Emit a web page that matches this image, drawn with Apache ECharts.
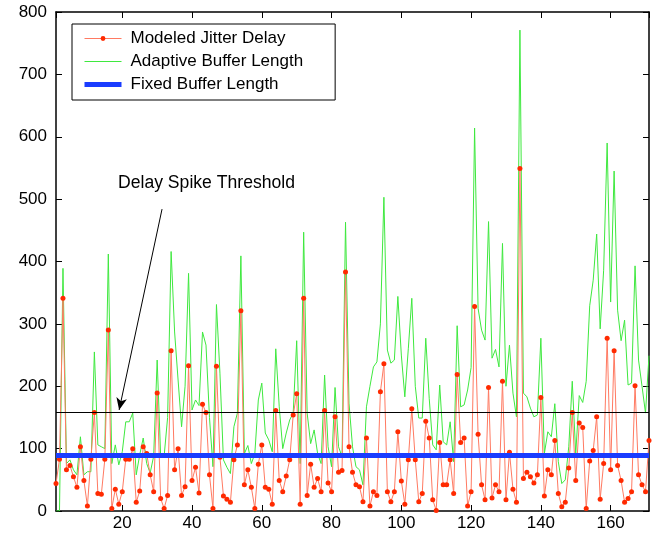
<!DOCTYPE html>
<html>
<head>
<meta charset="utf-8">
<script src="https://cdn.jsdelivr.net/npm/echarts@6/dist/echarts.min.js"></script>
<style>
  html, body { margin: 0; padding: 0; background: #fff; }
  #chart { width: 659px; height: 537px; }
</style>
</head>
<body>
<div id="chart"></div>
<script>
// ---------- data ----------
const xRange = [1, 171];
const yTicks = [0, 100, 200, 300, 400, 500, 600, 700, 800];

const jitterDelay = [
  44, 83, 341, 66, 73, 55, 38, 103, 49, 8,
  83, 158, 28, 27, 83, 290, 4, 35, 11, 31,
  83, 83, 100, 14, 32, 103, 92, 58, 31, 189,
  20, 4, 25, 257, 66, 100, 25, 39, 233, 49,
  70, 29, 171, 158, 58, 4, 232, 86, 24, 19,
  14, 82, 106, 321, 42, 66, 38, 4, 75, 106,
  38, 35, 11, 161, 49, 31, 56, 82, 154, 188,
  11, 341, 25, 75, 38, 52, 31, 161, 45, 31,
  151, 62, 65, 383, 103, 62, 42, 39, 15, 117,
  8, 31, 25, 191, 236, 31, 15, 31, 127, 48,
  11, 82, 164, 82, 15, 28, 144, 117, 18, 1,
  110, 42, 42, 82, 28, 219, 110, 117, 8, 31,
  328, 123, 42, 18, 198, 21, 42, 31, 208, 18,
  94, 35, 14, 549, 52, 62, 55, 45, 58, 182,
  24, 66, 58, 113, 28, 7, 14, 69, 158, 49,
  141, 134, 4, 80, 97, 151, 19, 76, 277, 66,
  257, 73, 49, 14, 20, 31, 201, 58, 42, 31,
  113
];

const adaptiveBuffer = [
  0, 0, 389, 76, 82, 66, 58, 119, 58, 63,
  63, 255, 106, 103, 100, 412, 76, 106, 74, 95,
  143, 143, 157, 58, 90, 117, 76, 61, 88, 242,
  88, 88, 150, 416, 287, 210, 135, 200, 381, 162,
  178, 169, 287, 266, 150, 71, 331, 221, 82, 70,
  60, 135, 157, 409, 92, 105, 76, 92, 178, 205,
  125, 114, 95, 260, 167, 100, 125, 146, 157, 273,
  76, 447, 157, 108, 130, 92, 76, 218, 103, 71,
  198, 103, 87, 463, 173, 103, 71, 66, 42, 167,
  200, 231, 239, 300, 503, 258, 237, 242, 344, 250,
  183, 260, 341, 200, 149, 149, 277, 180, 106, 98,
  202, 111, 106, 143, 79, 297, 167, 170, 194, 230,
  614, 325, 290, 274, 464, 245, 259, 231, 429, 200,
  266, 189, 151, 771, 189, 183, 165, 151, 154, 277,
  92, 127, 119, 172, 79, 44, 50, 103, 208, 92,
  185, 174, 208, 329, 370, 444, 292, 386, 590, 335,
  545, 322, 273, 306, 202, 205, 393, 242, 200, 157,
  249
];

const fixedBufferX = [1, 171];
const fixedBufferY = [89, 89];

const thresholdValue = 158;
const arrowFrom = [31.4, 484];
const arrowTo = [19.1, 162];

const seriesNames = ['Modeled Jitter Delay', 'Adaptive Buffer Length', 'Fixed Buffer Length'];
const annotationText = 'Delay Spike Threshold';

// ---------- build ----------
const FONT = '"Liberation Sans", Arial, Helvetica, sans-serif';
const sampleIndex = jitterDelay.map((_, i) => i + 1);
const delayData = sampleIndex.map((x, i) => [x, jitterDelay[i]]);
const bufferData = sampleIndex.map((x, i) => [x, adaptiveBuffer[i]]);
const fixedData = fixedBufferX.map((x, i) => [x, fixedBufferY[i]]);

const axisLineStyle = { color: '#000', width: 1.5 };
const tickStyle = { show: true, inside: true, length: 6, lineStyle: { color: '#000', width: 1 } };

function xAxisDef(pos, showLabels) {
  return {
    type: 'value', gridIndex: 0, position: pos,
    min: xRange[0], max: xRange[1],
    splitNumber: 8, minInterval: 20, maxInterval: 20,
    axisLine: { show: true, onZero: false, lineStyle: axisLineStyle },
    axisTick: tickStyle,
    splitLine: { show: false },
    axisLabel: {
      show: showLabels, color: '#000', fontSize: 17, fontFamily: FONT, margin: 4,
      showMinLabel: false, showMaxLabel: false
    }
  };
}
function yAxisDef(pos, showLabels) {
  return {
    type: 'value', gridIndex: 0, position: pos,
    min: yTicks[0], max: yTicks[yTicks.length - 1], interval: yTicks[1] - yTicks[0],
    axisLine: { show: true, onZero: false, lineStyle: axisLineStyle },
    axisTick: tickStyle,
    splitLine: { show: false },
    axisLabel: { show: showLabels, color: '#000', fontSize: 17, fontFamily: FONT, margin: 9 }
  };
}

const chart = echarts.init(document.getElementById('chart'), null, { renderer: 'canvas' });
chart.setOption({
  animation: false,
  backgroundColor: '#fff',
  textStyle: { fontFamily: FONT },
  grid: { left: 56, right: 10, top: 12, bottom: 26 },
  xAxis: [xAxisDef('bottom', true), xAxisDef('top', false)],
  yAxis: [yAxisDef('left', true), yAxisDef('right', false)],
  legend: {
    orient: 'vertical', left: 72, top: 24,
    backgroundColor: '#fff', borderColor: '#000', borderWidth: 1, borderRadius: 0,
    padding: [6, 32, 7, 10],
    itemWidth: 37, itemHeight: 6, itemGap: 6,
    textStyle: { color: '#000', fontSize: 17, fontFamily: FONT, lineHeight: 17, padding: [0, 0, 0, 4] },
    data: [
      { name: seriesNames[0], lineStyle: { width: 1 } },
      { name: seriesNames[1], lineStyle: { width: 1 }, itemStyle: { opacity: 0 } },
      { name: seriesNames[2], lineStyle: { width: 5 }, itemStyle: { opacity: 0 } }
    ]
  },
  graphic: [{
    type: 'text', left: 118, top: 174, z: 100,
    style: { text: annotationText, fontSize: 17.6, fontFamily: FONT, fill: '#000' }
  }],
  series: [
    {
      name: seriesNames[1], type: 'line', xAxisIndex: 0, yAxisIndex: 0,
      data: bufferData, symbol: 'none', z: 2,
      itemStyle: { color: '#3fe83f' },
      lineStyle: { color: '#3fe83f', width: 1 }
    },
    {
      name: seriesNames[0], type: 'line', xAxisIndex: 0, yAxisIndex: 0,
      data: delayData, symbol: 'circle', symbolSize: 5, showSymbol: true, showAllSymbol: true, z: 3,
      itemStyle: { color: '#ff2a00' },
      lineStyle: { color: '#ff7a62', width: 1 }
    },
    {
      name: seriesNames[2], type: 'line', xAxisIndex: 0, yAxisIndex: 0,
      data: fixedData, symbol: 'none', z: 4,
      itemStyle: { color: '#1a3cff' },
      lineStyle: { color: '#1a3cff', width: 5 }
    },
    {
      name: 'annotations', type: 'line', xAxisIndex: 0, yAxisIndex: 0,
      data: [], z: 5,
      markLine: {
        silent: true, animation: false,
        symbol: ['none', 'none'],
        label: { show: false },
        lineStyle: { color: '#000', width: 1, type: 'solid' },
        emphasis: { disabled: true },
        data: [
          { yAxis: thresholdValue },
          [
            { coord: arrowFrom, symbol: 'none' },
            { coord: arrowTo, symbol: 'arrow', symbolSize: [8, 12] }
          ]
        ]
      }
    }
  ]
});
</script>
</body>
</html>
